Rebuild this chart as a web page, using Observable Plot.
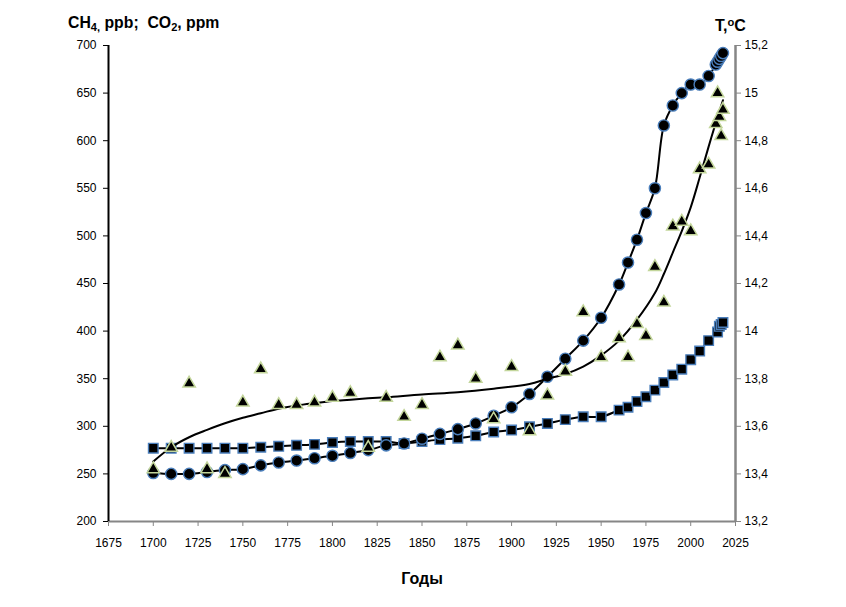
<!DOCTYPE html>
<html>
<head>
<meta charset="utf-8">
<script src="https://cdn.jsdelivr.net/npm/d3@7"></script>
<script src="https://cdn.jsdelivr.net/npm/@observablehq/plot@0.6"></script>
<style>
  body { margin: 0; background: #fff; }
  #wrap { position: relative; width: 846px; height: 607px; font-family: "Liberation Sans", Arial, sans-serif; }
  .lbl { position: absolute; font-weight: bold; color: #000; line-height: 16px; white-space: nowrap; }
  .lbl sub { font-size: 0.7em; vertical-align: -0.25em; line-height: 0; }
  .lbl sup { font-size: 0.7em; vertical-align: 0.45em; line-height: 0; }
</style>
</head>
<body>
<div id="wrap">
  <div class="lbl" id="t1" style="left:68px; top:15px; font-size:15.8px;">CH<sub>4,</sub> ppb;&nbsp; CO<sub>2</sub>, ppm</div>
  <div class="lbl" id="t2" style="left:715px; top:18px; font-size:16px;">T,<sup>o</sup>C</div>
</div>
<script>
// ---- data ----
const ch4Years = [1700,1710,1720,1730,1740,1750,1760,1770,1780,1790,1800,1810,1820,1830,1840,1850,1860,1870,1880,1890,1900,1910,1920,1930,1940,1950,1960,1965,1970,1975,1980,1985,1990,1995,2000,2005,2010,2014,2015,2016,2017,2018];
const ch4Values = [251,250,250,252,254,255,259,262,264,266.5,269,272,275,280,282,287,292,297,303,311,320,334,352,371,390,414,449,472,496,524,550,616,637,650,659,659,668,680,683,686,689,692];

const co2Years = [1700,1710,1720,1730,1740,1750,1760,1770,1780,1790,1800,1810,1820,1830,1840,1850,1860,1870,1880,1890,1900,1910,1920,1930,1940,1950,1960,1965,1970,1975,1980,1985,1990,1995,2000,2005,2010,2015,2016,2017,2018];
const co2Values = [277,277,277,277,277,277,278,279,280,281,283,284,284,284,282,284,286,287.5,290,294,296,299.5,303,307,310,310,317,320,326,331,338,346,354,360,370,379,390,399,405,407,409];

const tempYears = [1700,1710,1720,1730,1740,1750,1760,1770,1780,1790,1800,1810,1820,1830,1840,1850,1860,1870,1880,1890,1900,1910,1920,1930,1940,1950,1960,1965,1970,1975,1980,1985,1990,1995,2000,2005,2010,2014,2015,2016,2017,2018];
const tempValues = [13.42,13.51,13.78,13.42,13.40,13.70,13.84,13.69,13.69,13.70,13.72,13.74,13.51,13.72,13.64,13.69,13.89,13.94,13.80,13.63,13.85,13.58,13.73,13.83,14.08,13.89,13.97,13.89,14.03,13.98,14.27,14.12,14.44,14.46,14.42,14.68,14.70,14.87,15.00,14.90,14.82,14.93];

// trend line of temperature
const trendYears = [1700,1710,1720,1730,1740,1750,1760,1770,1780,1790,1800,1815,1830,1850,1870,1890,1910,1920,1930,1940,1950,1960,1970,1980,1985,1990,1995,2000,2005,2010,2015,2018];
const trendValues = [13.452,13.512,13.554,13.585,13.613,13.636,13.655,13.674,13.687,13.697,13.706,13.715,13.722,13.734,13.743,13.758,13.778,13.80,13.82,13.851,13.898,13.96,14.048,14.16,14.24,14.33,14.42,14.52,14.645,14.775,14.90,14.97];

const xTicks = [1675,1700,1725,1750,1775,1800,1825,1850,1875,1900,1925,1950,1975,2000,2025];
const yTicks = [200,250,300,350,400,450,500,550,600,650,700];
const tLabels = ["13,2","13,4","13,6","13,8","14","14,2","14,4","14,6","14,8","15","15,2"];
const tMin = 13.2, tMax = 15.2;

// ---- build tables ----
const ch4 = ch4Years.map((x, i) => ({x, v: ch4Values[i]}));
const co2 = co2Years.map((x, i) => ({x, v: co2Values[i]}));
const temp = tempYears.map((x, i) => ({x, t: tempValues[i]}));
const trend = trendYears.map((x, i) => ({x, t: trendValues[i]}));
const yMin = yTicks[0], yMax = yTicks[yTicks.length - 1];
const toLeft = t => yMin + (t - tMin) / (tMax - tMin) * (yMax - yMin);

const blue = "#4a7ebb", green = "#c3d69b";
const font = "'Liberation Sans', Arial, sans-serif";

const chart = Plot.plot({
  width: 846,
  height: 607,
  marginLeft: 108,
  marginRight: 111,
  marginTop: 45,
  marginBottom: 86,
  style: {fontFamily: font, background: "white", overflow: "visible"},
  x: {domain: [xTicks[0], xTicks[xTicks.length - 1]]},
  y: {domain: [yMin, yMax]},
  marks: [
    Plot.axisX({ticks: xTicks, tickFormat: d => String(d), tickSize: 5, tickPadding: 12, stroke: "#868686", fill: "#000", fontSize: 12,
      label: "Годы", labelAnchor: "center", labelArrow: "none", labelOffset: 62}),
    Plot.axisY({ticks: yTicks, tickFormat: d => String(d), tickSize: 5, tickPadding: 7, stroke: "#000", fill: "#000", fontSize: 12, label: null}),
    Plot.axisY({anchor: "right", ticks: yTicks, tickFormat: (d, i) => tLabels[i], tickSize: 5, tickPadding: 4, stroke: "#868686", fill: "#000", fontSize: 12, label: null}),
    Plot.ruleY([yMin], {stroke: "#868686", strokeWidth: 2}),
    Plot.ruleX([xTicks[xTicks.length - 1]], {stroke: "#868686", strokeWidth: 2.5}),
    Plot.ruleX([xTicks[0]], {stroke: "#000", strokeWidth: 2}),
    // CO2 squares
    Plot.line(co2, {x: "x", y: "v", curve: "catmull-rom", stroke: "#000", strokeWidth: 2}),
    Plot.dot(co2, {x: "x", y: "v", symbol: "square", r: 5.4, fill: "#000", stroke: blue, strokeWidth: 1.4}),
    // CH4 circles
    Plot.line(ch4, {x: "x", y: "v", curve: "catmull-rom", stroke: "#000", strokeWidth: 2}),
    Plot.dot(ch4, {x: "x", y: "v", symbol: "circle", r: 5.6, fill: "#000", stroke: blue, strokeWidth: 1.4}),
    // temperature trend + triangles
    Plot.line(trend, {x: "x", y: d => toLeft(d.t), curve: "catmull-rom", stroke: "#000", strokeWidth: 2}),
    Plot.dot(temp, {x: "x", y: d => toLeft(d.t), symbol: "triangle", r: 4.6, fill: "#000", stroke: green, strokeWidth: 1.5})
  ]
});
d3.select(chart).selectAll("[aria-label='x-axis label'] text").attr("font-weight", "bold").attr("font-size", 16);
document.getElementById("wrap").prepend(chart);
</script>
</body>
</html>
